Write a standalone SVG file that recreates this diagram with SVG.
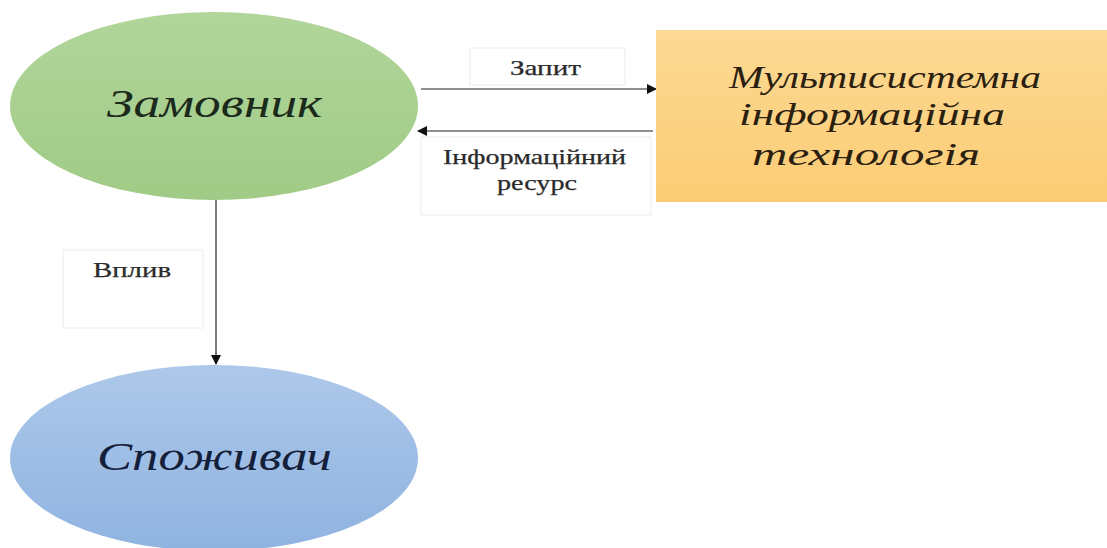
<svg xmlns="http://www.w3.org/2000/svg" width="1107" height="548" viewBox="0 0 1107 548">
  <style>
    .big { font-family: "Liberation Serif", "DejaVu Serif", serif; font-style: italic; }
    .lbl { font-family: "Liberation Serif", "DejaVu Serif", serif; font-size: 21px; fill: #2a2a2a; stroke: #2a2a2a; stroke-width: 0.25; }
    .lblbox { fill: #fff; stroke: #ececec; stroke-width: 1; }
    .conn { stroke: #222; stroke-width: 1.2; fill: none; }
  </style>
  <defs>
    <linearGradient id="gGreen" x1="0" y1="0" x2="0" y2="1">
      <stop offset="0" stop-color="#b1d59a"/>
      <stop offset="1" stop-color="#a0cb86"/>
    </linearGradient>
    <linearGradient id="gBlue" x1="0" y1="0" x2="0" y2="1">
      <stop offset="0" stop-color="#adc8ea"/>
      <stop offset="1" stop-color="#8fb3e0"/>
    </linearGradient>
    <linearGradient id="gOrange" x1="0" y1="0" x2="0" y2="1">
      <stop offset="0" stop-color="#fcd994"/>
      <stop offset="1" stop-color="#fbcc74"/>
    </linearGradient>
    <marker id="arr" viewBox="0 0 10 10" refX="9" refY="5" markerWidth="10" markerHeight="10" markerUnits="userSpaceOnUse" orient="auto">
      <path d="M0,0 L10,5 L0,10 Z" fill="#111"/>
    </marker>
  </defs>

  <rect width="1107" height="548" fill="#fff"/>

  <!-- label boxes -->
  <g id="labels">
    <rect class="lblbox" x="470" y="48" width="155" height="37"/>
    <text class="lbl" x="510" y="75" textLength="71" lengthAdjust="spacingAndGlyphs">Запит</text>
    <rect class="lblbox" x="421" y="137" width="230" height="78"/>
    <text class="lbl" x="443" y="164" textLength="183" lengthAdjust="spacingAndGlyphs">Інформаційний</text>
    <text class="lbl" x="497" y="190" textLength="80" lengthAdjust="spacingAndGlyphs">ресурс</text>
    <rect class="lblbox" x="63" y="250" width="140" height="78"/>
    <text class="lbl" x="93" y="277" textLength="78" lengthAdjust="spacingAndGlyphs">Вплив</text>
  </g>

  <!-- connectors -->
  <g id="connectors">
    <line class="conn" x1="421" y1="89" x2="656" y2="89" marker-end="url(#arr)"/>
    <line class="conn" x1="653" y1="131" x2="418" y2="131" marker-end="url(#arr)"/>
    <line class="conn" x1="216" y1="200" x2="216" y2="364" marker-end="url(#arr)"/>
  </g>

  <g id="node-zamovnyk">
    <ellipse cx="214" cy="106" rx="204" ry="94" fill="url(#gGreen)"/>
    <text class="big" x="107" y="117" font-size="41" fill="#1b2a1b" textLength="215" lengthAdjust="spacingAndGlyphs">Замовник</text>
  </g>

  <g id="node-mit">
    <rect x="656" y="30" width="451" height="172" fill="url(#gOrange)"/>
    <text class="big" x="729" y="88" font-size="31" fill="#2a2010" textLength="312" lengthAdjust="spacingAndGlyphs">Мультисистемна</text>
    <text class="big" x="739" y="125" font-size="31" fill="#2a2010" textLength="266" lengthAdjust="spacingAndGlyphs">інформаційна</text>
    <text class="big" x="752" y="165" font-size="31" fill="#2a2010" textLength="228" lengthAdjust="spacingAndGlyphs">технологія</text>
  </g>

  <g id="node-spozhyvach">
    <ellipse cx="214" cy="458" rx="204" ry="93" fill="url(#gBlue)"/>
    <text class="big" x="97" y="470" font-size="40" fill="#14203a" textLength="235" lengthAdjust="spacingAndGlyphs">Споживач</text>
  </g>
</svg>
